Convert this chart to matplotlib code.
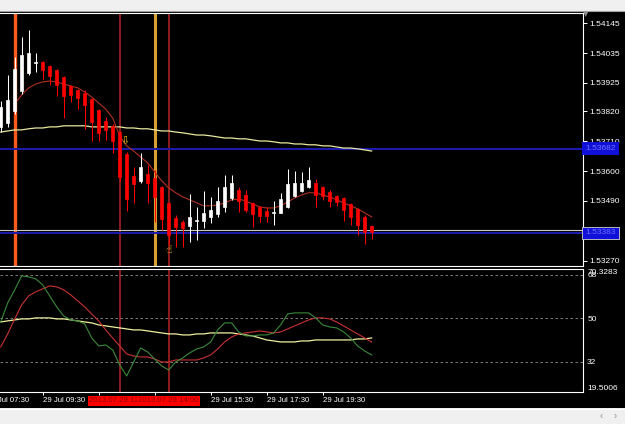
import numpy as np
import matplotlib.pyplot as plt

plt.rcParams['font.family'] = ['Liberation Sans', 'DejaVu Sans']

W, H = 625, 424

# 15 minute bars, 29 Jul 2013, first bar 08:00
opens = [1.53763, 1.53778, 1.53822, 1.53896, 1.53962, 1.53999, 1.54002, 1.53988, 1.53973, 1.53947,
         1.53914, 1.53899, 1.53888, 1.53866, 1.53826, 1.53785, 1.53767, 1.53744, 1.53663, 1.53582,
         1.53564, 1.53590, 1.53575, 1.53542, 1.53483, 1.53427, 1.53413, 1.53398, 1.53416, 1.53416,
         1.53431, 1.53442, 1.53468, 1.53501, 1.53531, 1.53512, 1.53483, 1.53468, 1.53453, 1.53446,
         1.53446, 1.53468, 1.53509, 1.53527, 1.53542, 1.53556, 1.53542, 1.53523, 1.53509, 1.53501,
         1.53479, 1.53461, 1.53431, 1.53398]
highs = [1.53859, 1.53955, 1.54021, 1.54095, 1.54120, 1.54036, 1.54006, 1.53991, 1.53977, 1.53950,
         1.53918, 1.53903, 1.53899, 1.53870, 1.53829, 1.53800, 1.53774, 1.53748, 1.53671, 1.53615,
         1.53667, 1.53623, 1.53604, 1.53545, 1.53486, 1.53439, 1.53420, 1.53516, 1.53468, 1.53527,
         1.53505, 1.53542, 1.53586, 1.53586, 1.53542, 1.53531, 1.53486, 1.53472, 1.53468, 1.53490,
         1.53520, 1.53608, 1.53601, 1.53597, 1.53615, 1.53571, 1.53545, 1.53531, 1.53512, 1.53505,
         1.53483, 1.53464, 1.53439, 1.53402]
lows = [1.53744, 1.53763, 1.53811, 1.53885, 1.53955, 1.53966, 1.53940, 1.53918, 1.53877, 1.53796,
        1.53855, 1.53829, 1.53756, 1.53711, 1.53711, 1.53715, 1.53667, 1.53564, 1.53453, 1.53483,
        1.53556, 1.53483, 1.53413, 1.53383, 1.53328, 1.53321, 1.53321, 1.53339, 1.53346, 1.53391,
        1.53409, 1.53431, 1.53450, 1.53494, 1.53450, 1.53450, 1.53394, 1.53413, 1.53413, 1.53402,
        1.53446, 1.53464, 1.53505, 1.53523, 1.53539, 1.53468, 1.53494, 1.53468, 1.53472, 1.53416,
        1.53402, 1.53365, 1.53332, 1.53350]
closes = [1.53837, 1.53862, 1.53977, 1.54028, 1.54036, 1.54002, 1.53973, 1.53951, 1.53918, 1.53877,
          1.53881, 1.53870, 1.53844, 1.53781, 1.53741, 1.53752, 1.53711, 1.53579, 1.53497, 1.53553,
          1.53615, 1.53556, 1.53505, 1.53424, 1.53365, 1.53394, 1.53391, 1.53431, 1.53420, 1.53446,
          1.53457, 1.53490, 1.53542, 1.53556, 1.53490, 1.53457, 1.53442, 1.53435, 1.53435, 1.53450,
          1.53497, 1.53553, 1.53556, 1.53556, 1.53568, 1.53512, 1.53509, 1.53490, 1.53486, 1.53457,
          1.53431, 1.53402, 1.53376, 1.53376]

# moving averages on the price chart
ma_fast = [np.nan, np.nan, 1.53848, 1.53881, 1.53907, 1.53921, 1.53929, 1.53932, 1.53929, 1.53921,
           1.53914, 1.53907, 1.53892, 1.53873, 1.53851, 1.53829, 1.53796, 1.53730, 1.53693, 1.53674,
           1.53652, 1.53630, 1.53597, 1.53564, 1.53538, 1.53520, 1.53505, 1.53494, 1.53483, 1.53472,
           1.53472, 1.53475, 1.53483, 1.53494, 1.53497, 1.53490, 1.53479, 1.53468, 1.53464, 1.53464,
           1.53472, 1.53486, 1.53501, 1.53512, 1.53520, 1.53520, 1.53512, 1.53505, 1.53494, 1.53483,
           1.53472, 1.53461, 1.53446, 1.53431]
ma_slow = [1.53744, 1.53748, 1.53752, 1.53752, 1.53756, 1.53759, 1.53759, 1.53763, 1.53763, 1.53767,
           1.53767, 1.53767, 1.53767, 1.53763, 1.53763, 1.53763, 1.53763, 1.53763, 1.53759, 1.53759,
           1.53756, 1.53756, 1.53752, 1.53748, 1.53748, 1.53744, 1.53741, 1.53737, 1.53733, 1.53733,
           1.53730, 1.53726, 1.53722, 1.53722, 1.53719, 1.53719, 1.53715, 1.53711, 1.53711, 1.53708,
           1.53704, 1.53704, 1.53700, 1.53700, 1.53697, 1.53697, 1.53693, 1.53693, 1.53689, 1.53685,
           1.53685, 1.53682, 1.53678, 1.53674]

# oscillator window
osc_green = [48.46, 56.32, 61.71, 67.50, 67.08, 66.25, 63.77, 59.22, 54.67, 50.95,
             49.29, 48.88, 47.64, 41.84, 38.53, 38.95, 36.88, 30.67, 26.12, 31.91,
             37.70, 36.05, 33.15, 30.26, 28.60, 31.91, 33.57, 35.64, 37.29, 38.12,
             40.19, 45.15, 48.05, 48.05, 44.32, 42.67, 42.67, 43.08, 43.08, 43.91,
             47.22, 51.77, 52.19, 52.19, 52.19, 50.12, 47.22, 46.39, 45.98, 44.32,
             41.84, 38.53, 36.46, 34.81]
osc_red = [38.12, 43.50, 49.70, 55.50, 59.22, 60.88, 62.12, 63.36, 62.95, 61.71,
           59.64, 57.15, 54.67, 51.77, 48.88, 45.15, 41.84, 38.53, 35.22, 34.39,
           33.98, 33.98, 33.15, 31.91, 31.91, 32.74, 32.74, 32.74, 32.74, 33.57,
           34.81, 37.29, 40.19, 42.25, 43.50, 43.91, 44.32, 44.74, 44.32, 43.91,
           44.32, 45.56, 46.81, 48.05, 49.29, 50.12, 50.12, 49.70, 48.46, 46.81,
           45.15, 43.50, 41.84, 40.19]
osc_yellow = [48.46, 48.88, 49.29, 49.70, 49.70, 50.12, 50.12, 50.12, 49.70, 49.70,
              49.29, 48.88, 48.46, 48.05, 47.22, 46.81, 46.39, 45.98, 45.56, 45.15,
              45.15, 44.74, 44.32, 43.91, 43.50, 43.50, 43.08, 43.08, 43.50, 43.50,
              43.91, 43.91, 43.91, 43.91, 43.50, 43.08, 42.67, 41.84, 41.01, 40.60,
              40.19, 40.19, 40.19, 40.60, 40.60, 41.01, 41.01, 41.01, 41.01, 41.01,
              41.01, 41.43, 41.43, 41.84]

price_ticks = [1.54145, 1.54035, 1.53925, 1.53820, 1.53710, 1.53600, 1.53490, 1.53270]
osc_ticks = [19.5006, 32, 50, 68, 70.3283]
osc_levels = [68, 50, 32]
hline_up = 1.53682
hline_low = 1.53372
bid = 1.53383

time_ticks = [-2, 6, 14, 22, 30, 38, 46]
time_labels = ['29 Jul 07:30', '29 Jul 09:30', '', '', '29 Jul 15:30', '29 Jul 17:30', '29 Jul 19:30']
vline_bars = [17, 24]
vline_labels = ['2013.07.29 12:15', '2013.07.29 14:00']
orange_bar = 2
gold_bar = 22
arrow_bar, arrow_price = 17.7, 1.53712
thumb_bar, thumb_price = 24, 1.53310

x = np.arange(len(opens))
o = np.array(opens); c = np.array(closes)
up = c >= o
cols = np.where(up, '#ffffff', '#ff0000')

fig = plt.figure(figsize=(W / 100, H / 100), dpi=100, facecolor='#f0f0f0')
# black chart window behind everything
bg = fig.add_axes([0, 1 - 408 / H, 1, 396 / H], zorder=-5)
bg.set_facecolor('black')
bg.set_xticks([]); bg.set_yticks([])
for s in bg.spines.values():
    s.set_visible(False)
fig.add_artist(plt.Line2D([0, 1], [1 - 11 / H] * 2, color='#a0a0a0', lw=0.8))
fig.add_artist(plt.Line2D([0, 1], [1 - 408.5 / H] * 2, color='#ffffff', lw=0.8))

ax = fig.add_axes([0, 1 - 266 / H, 583 / W, 253 / H])
ax2 = fig.add_axes([0, 1 - 392 / H, 583 / W, 123 / H])

for a in (ax, ax2):
    a.set_facecolor('black')
    for s in a.spines.values():
        s.set_color('white')
        s.set_linewidth(0.8)
    a.spines['left'].set_visible(False)

# price chart
ax.axvline(orange_bar, color='#ff5a1e', lw=2.4, zorder=1)
ax.axvline(gold_bar, color='#d8a030', lw=2.2, zorder=1)
for b in vline_bars:
    ax.axvline(b, color='#8e1c1c', lw=1.4, zorder=1)
    ax2.axvline(b, color='#8e1c1c', lw=1.4, zorder=1)
ax.axhline(hline_up, color='#1c1cb0', lw=1.4, zorder=2)
ax.axhline(hline_low, color='#1c1cb0', lw=1.4, zorder=2)
ax.axhline(bid, color='#c8c8c8', lw=0.8, zorder=2)

ax.plot(x, ma_slow, color='#e8e8a0', lw=0.9, zorder=2)
ax.plot(x, ma_fast, color='#b03020', lw=0.8, zorder=2)
ax.vlines(x, lows, highs, colors=cols, lw=0.75, zorder=3)
ax.bar(x, np.abs(c - o), bottom=np.minimum(o, c), width=0.45, color=cols,
       edgecolor=cols, linewidth=0.5, zorder=4)
ax.text(arrow_bar, arrow_price, '\u21e9', color='#e0c020', fontsize=8,
        ha='center', va='center', family='DejaVu Sans', zorder=5)
ax.text(thumb_bar, thumb_price, '\u261d', color='#e0c020', fontsize=8,
        ha='center', va='center', family='DejaVu Sans', zorder=5)

ax.set_ylim(1.53250, 1.54183)
ax.yaxis.tick_right()
ax.set_yticks(price_ticks)
ax.set_yticklabels(['%.5f' % p for p in price_ticks])
ax.tick_params(axis='y', colors='white', length=3, width=0.7, pad=1.5, labelsize=6)
ax.set_xticks([])

trans = ax.get_yaxis_transform()
ax.text(1.004, hline_up, '%.5f' % hline_up, transform=trans, ha='left', va='center',
        fontsize=6, color='#7070ff', clip_on=False,
        bbox=dict(boxstyle='square,pad=0.35', fc='#1010d8', ec='none'))
ax.text(1.004, hline_low, '%.5f' % bid, transform=trans, ha='left', va='center',
        fontsize=6, color='#7070ff', clip_on=False,
        bbox=dict(boxstyle='square,pad=0.35', fc='#1010d8', ec='#d0d0d0', lw=0.6))

# oscillator window
for lv in osc_levels:
    ax2.axhline(lv, color='#909090', lw=0.6, ls=(0, (3, 3)), zorder=1)
ax2.plot(x, osc_yellow, color='#f0f0a0', lw=0.9, zorder=2)
ax2.plot(x, osc_red, color='#c83232', lw=0.8, zorder=3)
ax2.plot(x, osc_green, color='#3a8a3a', lw=0.8, zorder=3)
ax2.set_yticks(osc_ticks)
ax2.set_ylim(osc_ticks[0], osc_ticks[-1])
ax2.yaxis.tick_right()
ax2.set_yticklabels(['19.5006', '32', '50', '68', '70.3283'])
ax2.tick_params(axis='y', colors='white', length=0, pad=3, labelsize=6)
lbls = ax2.get_yticklabels()
lbls[0].set_va('bottom')
lbls[-1].set_va('top')

ax2.set_xticks(time_ticks)
ax2.tick_params(axis='x', colors='white', length=2.5, width=0.7, labelbottom=False)
xt = ax2.get_xaxis_transform()
for t, lb in zip(time_ticks, time_labels):
    ax2.text(t + 0.1, -0.07, lb, transform=xt, ha='left', va='center',
             fontsize=5.6, color='white', clip_on=False)
for b, lb in zip(vline_bars, vline_labels):
    ax2.text(b, -0.07, lb, transform=xt, ha='center', va='center', fontsize=5.6,
             color='#900000', clip_on=False, zorder=6 + b,
             bbox=dict(boxstyle='square,pad=0.2', fc='#ff0000', ec='none'))

# set limits last so the ticks cannot widen them
for a in (ax, ax2):
    a.set_xlim(-0.1, 83.2)

fig.text(586 / W, 1 - 14 / H, '\u25bc', fontsize=5, color='#909090', ha='center', va='center',
         family='DejaVu Sans')
fig.text(601 / W, 1 - 416 / H, '\u2039', fontsize=7, color='#909090', ha='center', va='center')
fig.text(615 / W, 1 - 416 / H, '\u203a', fontsize=7, color='#909090', ha='center', va='center')

fig.savefig('out.png', dpi=100, facecolor=fig.get_facecolor())
